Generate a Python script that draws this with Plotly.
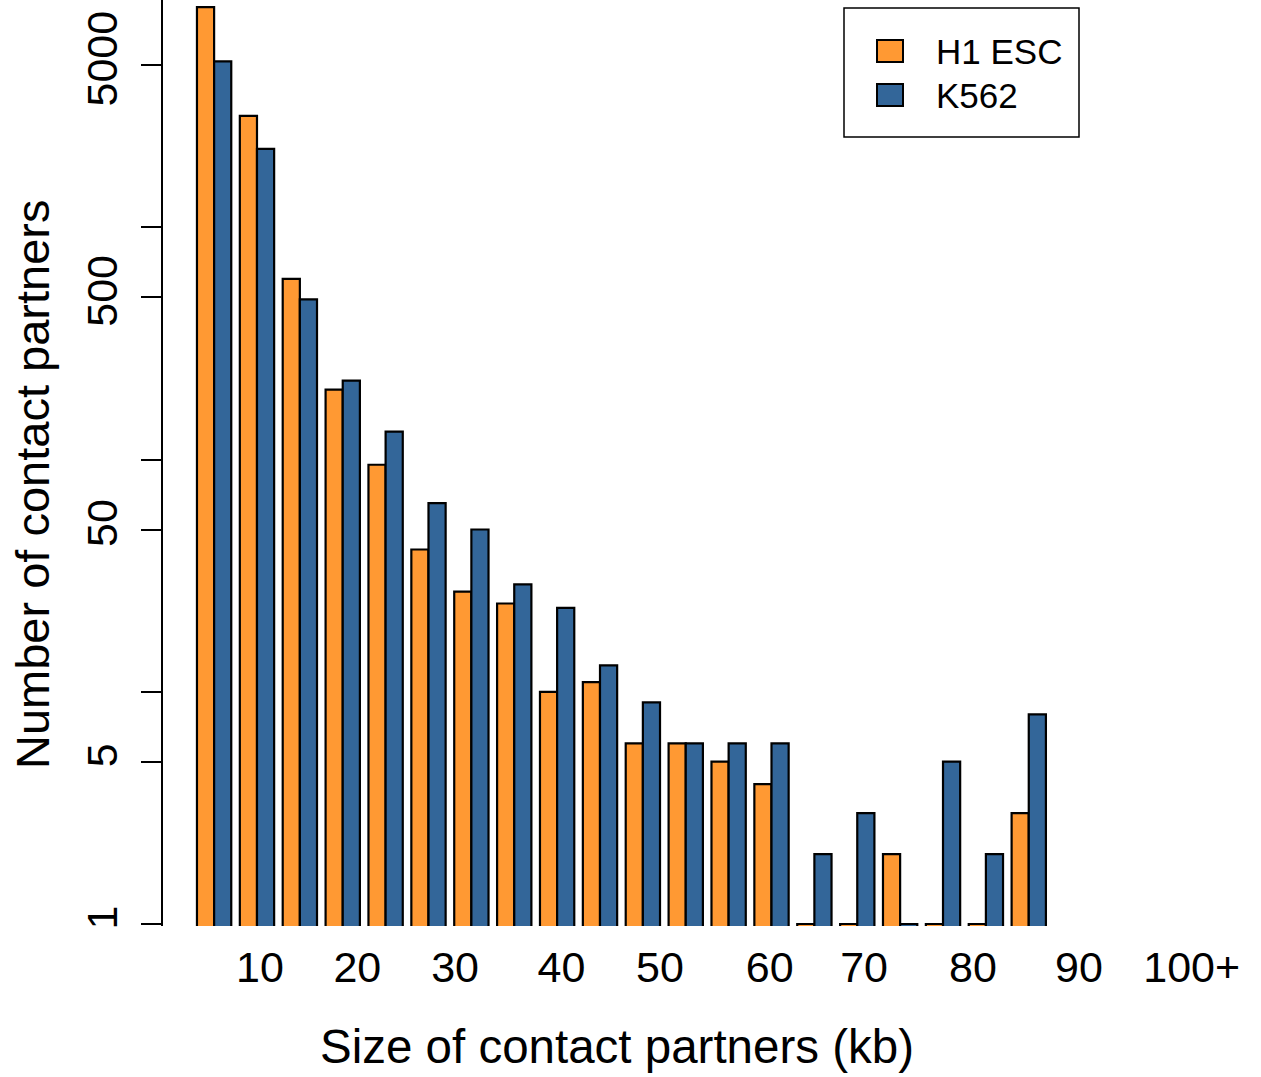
import plotly.graph_objects as go

# ---- data ----
bin_index = list(range(1, 21))
h1_esc = [8890, 3020, 600, 200, 95, 41, 27, 24, 10, 11, 6, 6, 5, 4, 1, 1, 2, 1, 1, 3]
k562 = [5190, 2180, 490, 219, 132, 65, 50, 29, 23, 13, 9, 6, 6, 6, 2, 3, 1, 5, 2, 8]
series_names = ["H1 ESC", "K562"]
x_tick_labels = ["10", "20", "30", "40", "50", "60", "70", "80", "90", "100+"]
y_tick_values = [1, 5, 10, 50, 100, 500, 1000, 5000]
y_tick_labels = ["1", "5", "", "50", "", "500", "", "5000"]

# ---- layout constants ----
W, H = 1261, 1077
ML, MR, MT, MB = 163, 20, 0, 151
PW, PH = W - ML - MR, H - MT - MB
x_tick_pos = [2.07, 4.34, 6.62, 9.10, 11.40, 13.96, 16.16, 18.70, 21.17, 23.80]
Y_RANGE = [-0.0086, 3.9793]
FONT = "Liberation Sans, Arial, Helvetica, sans-serif"
ORANGE = "#FF9933"
BLUE = "#336699"
colors = [ORANGE, BLUE]


def px_x(p):
    return (p - ML) / PW


def px_y(p):
    return (MT + PH - p) / PH


fig = go.Figure()
for name, vals, col in zip(series_names, [h1_esc, k562], colors):
    fig.add_bar(x=bin_index, y=vals, name=name, showlegend=False,
                marker=dict(color=col, line=dict(color="black", width=2.2)))

fig.update_layout(
    width=W, height=H,
    margin=dict(l=ML, r=MR, t=MT, b=MB, pad=0),
    paper_bgcolor="white", plot_bgcolor="white",
    barmode="group", bargap=0.2, bargroupgap=0,
    font=dict(family=FONT, color="black"),
    showlegend=False,
    xaxis=dict(range=[-0.192, 24.95], tickmode="array", tickvals=x_tick_pos,
               ticktext=x_tick_labels, ticks="", showgrid=False, zeroline=False,
               showline=False, ticklabelstandoff=12, automargin=False,
               tickfont=dict(size=43, family=FONT, color="black")),
    yaxis=dict(type="log", range=Y_RANGE, tickmode="array",
               tickvals=y_tick_values, ticktext=y_tick_labels,
               ticks="outside", ticklen=20, tickwidth=2, tickcolor="black",
               tickangle=-90, showgrid=False, zeroline=False,
               showline=True, linecolor="black", linewidth=2,
               ticklabelstandoff=7, automargin=False,
               tickfont=dict(size=43, family=FONT, color="black")),
)

# legend box (R style)
fig.add_shape(type="rect", xref="paper", yref="paper",
              x0=px_x(844), x1=px_x(1079), y0=px_y(137), y1=px_y(8),
              line=dict(color="black", width=1.5), fillcolor="white", layer="above")
legend_rows = [51, 95]
for name, col, yc in zip(series_names, colors, legend_rows):
    fig.add_shape(type="rect", xref="paper", yref="paper",
                  x0=px_x(877), x1=px_x(903), y0=px_y(yc + 11), y1=px_y(yc - 11),
                  line=dict(color="black", width=2), fillcolor=col, layer="above")
    fig.add_annotation(text=name, xref="paper", yref="paper",
                       x=px_x(934), y=px_y(yc), xanchor="left", yanchor="middle",
                       showarrow=False,
                       font=dict(size=35, family=FONT, color="black"))

fig.add_annotation(text="Number of contact partners", xref="paper", yref="paper",
                   x=px_x(33), y=px_y(484), xanchor="center", yanchor="middle",
                   textangle=-90, showarrow=False,
                   font=dict(size=47, family=FONT, color="black"))
fig.add_annotation(text="Size of contact partners (kb)", xref="paper", yref="paper",
                   x=px_x(617), y=px_y(1046), xanchor="center", yanchor="middle",
                   showarrow=False,
                   font=dict(size=47.5, family=FONT, color="black"))

fig.write_html("out.html", config={"displayModeBar": False},
               post_script="document.body.style.margin='0';document.body.style.padding='0';")
